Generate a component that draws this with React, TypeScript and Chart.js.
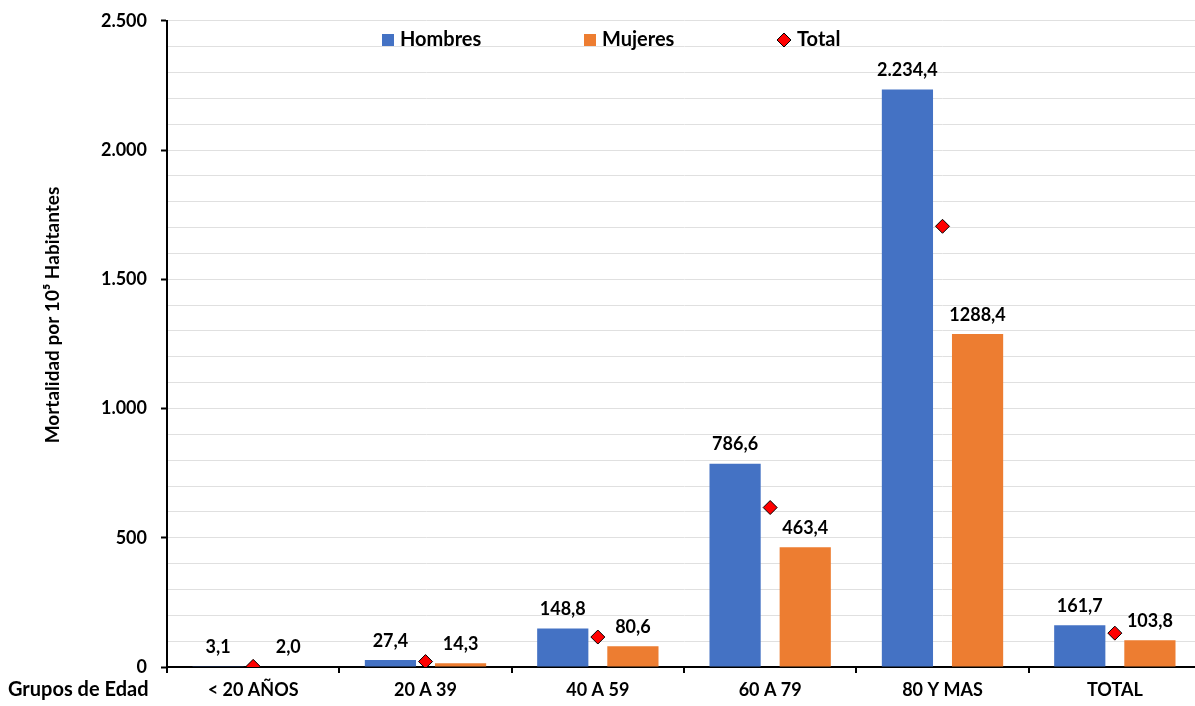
import React, { useEffect, useRef } from "react";
import { Chart, registerables } from "chart.js";

Chart.register(...registerables);

const categories = ["< 20 AÑOS", "20 A 39", "40 A 59", "60 A 79", "80 Y MAS", "TOTAL"];
const hombres = [3.1, 27.4, 148.8, 786.6, 2234.4, 161.7];
const mujeres = [2.0, 14.3, 80.6, 463.4, 1288.4, 103.8];
const total = [2.5, 21, 116, 617, 1705, 131];
const hombresLabels = ["3,1", "27,4", "148,8", "786,6", "2.234,4", "161,7"];
const mujeresLabels = ["2,0", "14,3", "80,6", "463,4", "1288,4", "103,8"];
const yTickLabels: Record<number, string> = { 0: "0", 500: "500", 1000: "1.000", 1500: "1.500", 2000: "2.000", 2500: "2.500" };

const FONT = "Lato, 'Open Sans', sans-serif";
const BLUE = "#4472C4";
const ORANGE = "#ED7D31";
const SHIFT = 4;

export default function App() {
  const ref = useRef<HTMLCanvasElement | null>(null);
  useEffect(() => {
    if (!ref.current) return;
    const overlay = {
      id: "overlay",
      afterDatasetsDraw(chart: any) {
        const ctx = chart.ctx;
        ctx.save();
        ctx.fillStyle = "#000";
        ctx.font = `bold 18px ${FONT}`;
        ctx.textAlign = "center";
        ctx.textBaseline = "middle";
        [0, 1].forEach((di) => {
          const meta = chart.getDatasetMeta(di);
          const labels = di === 0 ? hombresLabels : mujeresLabels;
          meta.data.forEach((el: any, i: number) => {
            ctx.fillText(labels[i], el.x, el.y - 19);
          });
        });
        ctx.restore();
      },
      afterDraw(chart: any) {
        const ctx = chart.ctx;
        ctx.save();
        ctx.translate(0, SHIFT);
        // legend
        ctx.font = `bold 20px ${FONT}`;
        ctx.textBaseline = "middle";
        ctx.textAlign = "left";
        const ly = 40;
        ctx.fillStyle = BLUE;
        ctx.fillRect(382, ly - 6, 12, 12);
        ctx.fillStyle = "#000";
        ctx.fillText("Hombres", 400, ly);
        ctx.fillStyle = ORANGE;
        ctx.fillRect(584, ly - 6, 12, 12);
        ctx.fillStyle = "#000";
        ctx.fillText("Mujeres", 602, ly);
        ctx.beginPath();
        ctx.moveTo(784, ly - 7);
        ctx.lineTo(791, ly);
        ctx.lineTo(784, ly + 7);
        ctx.lineTo(777, ly);
        ctx.closePath();
        ctx.fillStyle = "#FF0000";
        ctx.fill();
        ctx.strokeStyle = "#000";
        ctx.lineWidth = 1;
        ctx.stroke();
        ctx.fillStyle = "#000";
        ctx.fillText("Total", 797, ly);
        // x axis title
        ctx.font = `bold 20px ${FONT}`;
        ctx.textAlign = "left";
        ctx.fillText("Grupos de Edad", 8, 690);
        // y axis title
        ctx.font = `bold 19px ${FONT}`;
        ctx.translate(53, 315);
        ctx.rotate(-Math.PI / 2);
        ctx.textAlign = "center";
        ctx.fillText("Mortalidad por 10\u2075 Habitantes", 0, 0);
        ctx.restore();
      },
    };
    const chart = new Chart(ref.current, {
      type: "bar",
      data: {
        labels: categories,
        datasets: [
          { type: "bar", label: "Hombres", data: hombres, backgroundColor: BLUE, categoryPercentage: 0.814, barPercentage: 0.73, order: 2 },
          { type: "bar", label: "Mujeres", data: mujeres, backgroundColor: ORANGE, categoryPercentage: 0.814, barPercentage: 0.73, order: 2 },
          {
            type: "line", label: "Total", data: total, showLine: false, pointStyle: "rectRot", pointRadius: 7,
            pointBackgroundColor: "#FF0000", pointBorderColor: "#000", pointBorderWidth: 1, order: 1,
          } as any,
        ],
      },
      options: {
        animation: false,
        responsive: false,
        layout: { padding: { top: 11, right: 0, left: 0, bottom: 0 } },
        plugins: { legend: { display: false }, tooltip: { enabled: false } },
        scales: {
          x: {
            offset: true,
            grid: { display: true, drawOnChartArea: false, tickLength: 6, tickColor: "#000", offset: true, lineWidth: 2 },
            border: { color: "#000", width: 2 },
            ticks: { color: "#000", font: { family: FONT, size: 18, weight: "bold" }, padding: 6, maxRotation: 0 },
            afterFit(s: any) { s.height = 39; },
          },
          y: {
            min: 0, max: 2500,
            grid: {
              color: "#e0e0e0", lineWidth: 1, tickLength: 6,
              tickColor: (c: any) => (c.tick && c.tick.value % 500 === 0 ? "#000" : "rgba(0,0,0,0)"),
              tickWidth: 2,
            },
            border: { color: "#000", width: 2 },
            ticks: {
              stepSize: 100, autoSkip: false, color: "#000", padding: 14,
              font: { family: FONT, size: 18, weight: "bold" },
              callback: (v: any) => (yTickLabels[v as number] !== undefined ? yTickLabels[v as number] : ""),
            },
            afterFit(s: any) { s.width = 167; },
          },
        },
      },
      plugins: [overlay],
    } as any);
    return () => chart.destroy();
  }, []);
  return (
    <div style={{ position: "fixed", left: 0, top: 0, width: 1195, height: 706, background: "#fff", overflow: "hidden" }}>
      <canvas
        ref={ref}
        width={1209}
        height={706 + SHIFT}
        style={{ width: 1209, height: 706 + SHIFT, position: "absolute", left: 0, top: -SHIFT }}
      />
    </div>
  );
}
